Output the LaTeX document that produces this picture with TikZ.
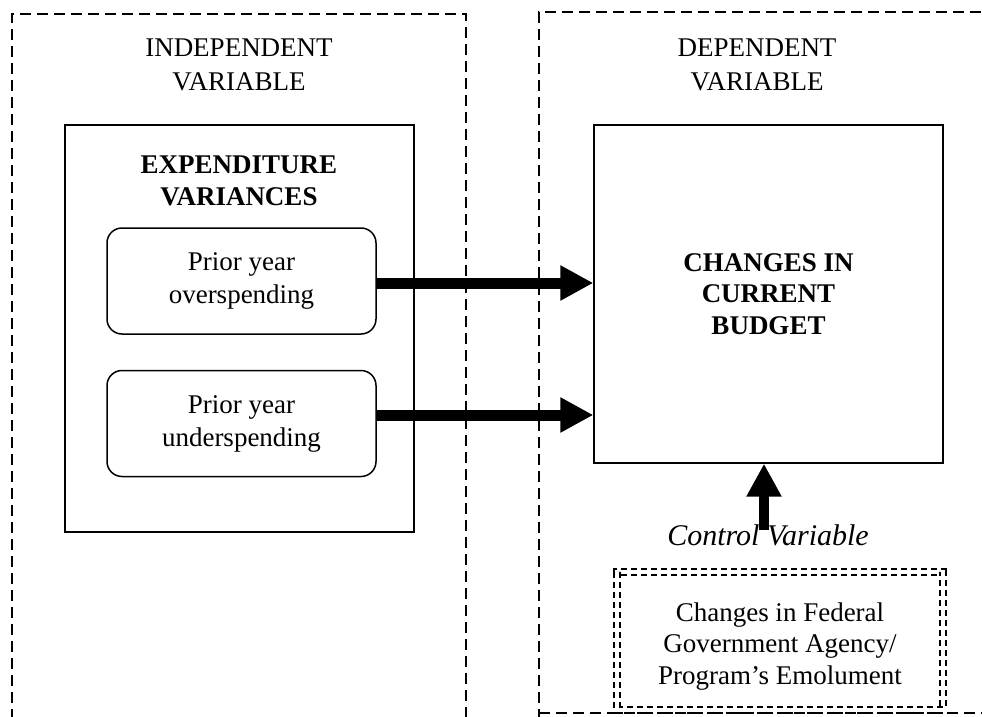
\documentclass[tikz,border=0pt]{standalone}
\usepackage{fontspec}
\setmainfont{Liberation Serif}
\usetikzlibrary{arrows.meta,calc}
\tikzset{
  region/.style={line width=1.5pt, dash pattern=on 11pt off 6pt},
  solidbox/.style={draw, line width=1.3pt, inner sep=0pt},
  subbox/.style={draw, line width=1.5pt, rounded corners=15pt, minimum width=269pt, minimum height=106pt, inner sep=0pt, align=center, font=\fontsize{27}{33}\selectfont},
  heading/.style={align=center, inner sep=0pt, font=\fontsize{27}{34}\selectfont},
  bigarrow/.style={line width=11pt, -{Triangle[length=33pt,width=33pt]}},
  ctrlbox/.style={draw, line width=2pt, double, double distance=3.5pt, dash pattern=on 6pt off 4pt, minimum width=326pt, minimum height=138pt, inner sep=0pt},
}
\begin{document}
\begin{tikzpicture}[x=1pt,y=-1pt]
\clip (0,0) rectangle (982,717);
% dashed regions
\draw[region] (12,720) -- (12,14) -- (466,14) -- (466,720);
\draw[region] (539,720) -- (539,12) -- (990,12);
\draw[region] (539,713) -- (990,713);
% headings
\node[heading] (indep) at (239,65) {INDEPENDENT\\VARIABLE};
\node[heading] (dep) at (757,65) {DEPENDENT\\VARIABLE};
% independent side
\node[solidbox, minimum width=349pt, minimum height=407pt] (exp) at (239.5,328.5) {};
\node[heading, font=\fontsize{27}{32}\selectfont\bfseries] (exptitle) at (239,181) {EXPENDITURE\\VARIANCES};
\node[subbox] (over) at (241.5,281) {Prior year\\overspending};
\node[subbox] (under) at (241.5,423.5) {Prior year\\underspending};
% dependent side
\node[solidbox, minimum width=349pt, minimum height=338pt, align=center, font=\fontsize{27}{31.5}\selectfont\bfseries] (budget) at (768.5,294) {CHANGES IN\\CURRENT\\BUDGET};
% arrows
\draw[bigarrow] ([yshift=-2pt]over.east) -- ([yshift=-2pt]over.east -| budget.west);
\draw[bigarrow] ([yshift=8.5pt]under.east) -- ([yshift=8.5pt]under.east -| budget.west);
\coordinate (cvtail) at (764,530);
\draw[bigarrow, line width=10pt] (cvtail) -- (cvtail |- budget.south);
\node[anchor=base, inner sep=0pt, font=\fontsize{30}{36}\selectfont\itshape] (cvlabel) at (768,545) {Control Variable};
% control variable box
\node[ctrlbox] (ctrl) at (780,641) {};
\node[heading, font=\fontsize{27}{31.5}\selectfont] (ctrltxt) at (780,646.5) {Changes in Federal\\Government Agency/\\Program’s Emolument};
\end{tikzpicture}
\end{document}
